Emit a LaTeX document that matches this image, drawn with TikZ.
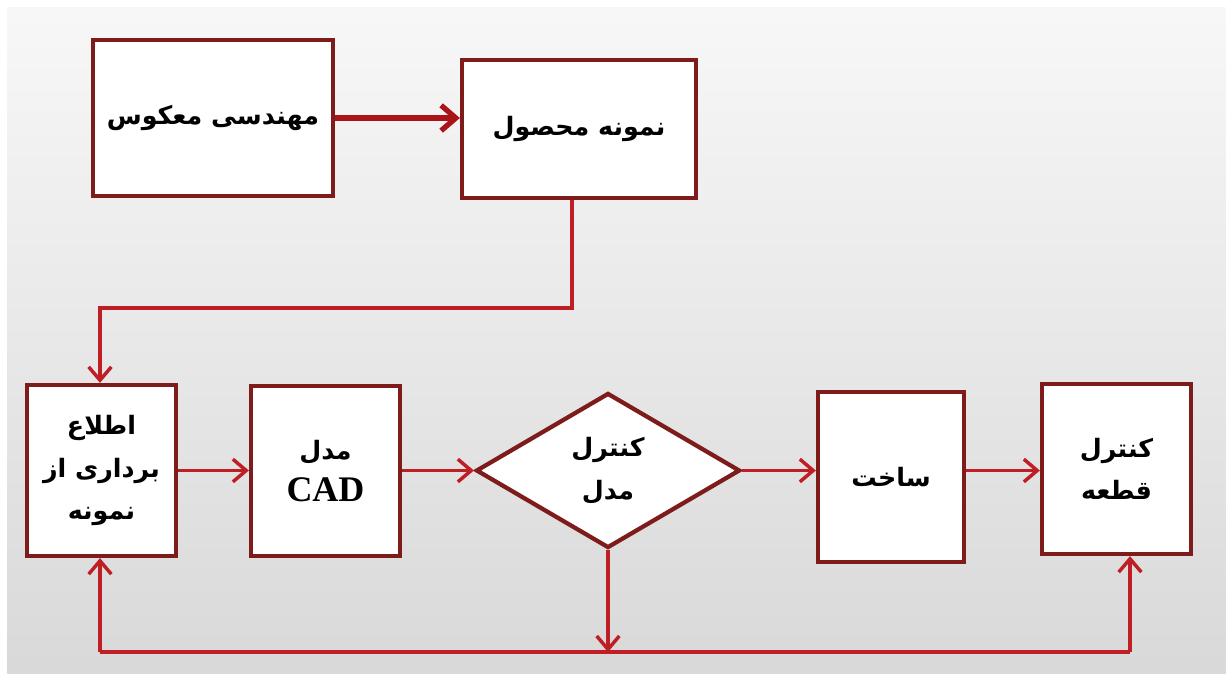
\documentclass[tikz,border=0pt]{standalone}
\usepackage{fontspec}
\usetikzlibrary{arrows.meta,shapes.geometric,calc}
\TeXXeTstate=1
\newfontfamily\arabicfont[Script=Arabic]{DejaVu Sans}
\setmainfont{Liberation Serif}
\definecolor{boxred}{HTML}{7E1C1C}
\definecolor{linered}{HTML}{BE1E24}
\definecolor{toparrow}{HTML}{A81418}
\newcommand{\ar}[1]{\beginR #1\endR}
\tikzset{
  box/.style={draw=boxred, line width=3.2pt, fill=white, inner sep=0pt, align=center,
    font=\arabicfont\bfseries\fontsize{19}{32}\selectfont},
  dia/.style={box, diamond, shape aspect=1.7},
  conn/.style={draw=linered, line width=2.6pt, -{Straight Barb[length=10pt,width=17pt,line width=2.6pt]}},
  line/.style={draw=linered, line width=2.6pt},
}
\begin{document}
\begin{tikzpicture}[x=0.75pt,y=-0.75pt]
\useasboundingbox (0,0) rectangle (1226,675);
\fill[white] (0,0) rectangle (1226,675);
\shade[top color=black!3, bottom color=black!15] (7,7) rectangle (1226,673);

\node[box, minimum width=180pt, minimum height=117pt] (rev) at (213,118) {\ar{مهندسی معکوس}};
\node[box, minimum width=175.5pt, minimum height=103.5pt] (prod) at (579,129) {\ar{نمونه محصول}};
\node[box, minimum width=111.75pt, minimum height=128.25pt] (scan) at (101.5,470.5) {\ar{اطلاع}\\\ar{برداری از}\\\ar{نمونه}};
\node[box, minimum width=111.75pt, minimum height=127.5pt] (cad) at (325.5,471) {\ar{مدل}\\{\rmfamily\bfseries\fontsize{27}{34}\selectfont CAD}};
\node[dia, minimum width=198pt, minimum height=116.25pt] (chk) at (608,470.5) {\ar{کنترل}\\\ar{مدل}};
\node[box, minimum width=109.5pt, minimum height=127.5pt] (make) at (891,477) {\ar{ساخت}};
\node[box, minimum width=111.75pt, minimum height=127.5pt] (part) at (1116.5,469) {\ar{کنترل}\\\ar{قطعه}};

\coordinate (c1) at (572,308);
\coordinate (c2) at (100,308);
\coordinate (bl) at (100,652);
\coordinate (bm) at (608,652);
\coordinate (br) at (1130,652);

\draw[draw=toparrow, line width=4pt, -{Straight Barb[length=11pt,width=19pt,line width=4pt]}] (rev.east) -- (prod.west |- rev.east);
\draw[conn] (prod.south -| c1) -- (c1) -- (c2) -- (scan.north -| c2);
\draw[conn] (scan.east |- chk) -- (cad.west |- chk);
\draw[conn] (cad.east |- chk) -- (chk.west);
\draw[conn] (chk.east) -- (make.west |- chk);
\draw[conn] (make.east |- chk) -- (part.west |- chk);
\draw[conn] (chk.south) -- (bm);
\draw[line] (bl) -- (br);
\draw[conn] (bl) -- (scan.south -| bl);
\draw[conn] (br) -- (part.south -| br);
\end{tikzpicture}
\end{document}
